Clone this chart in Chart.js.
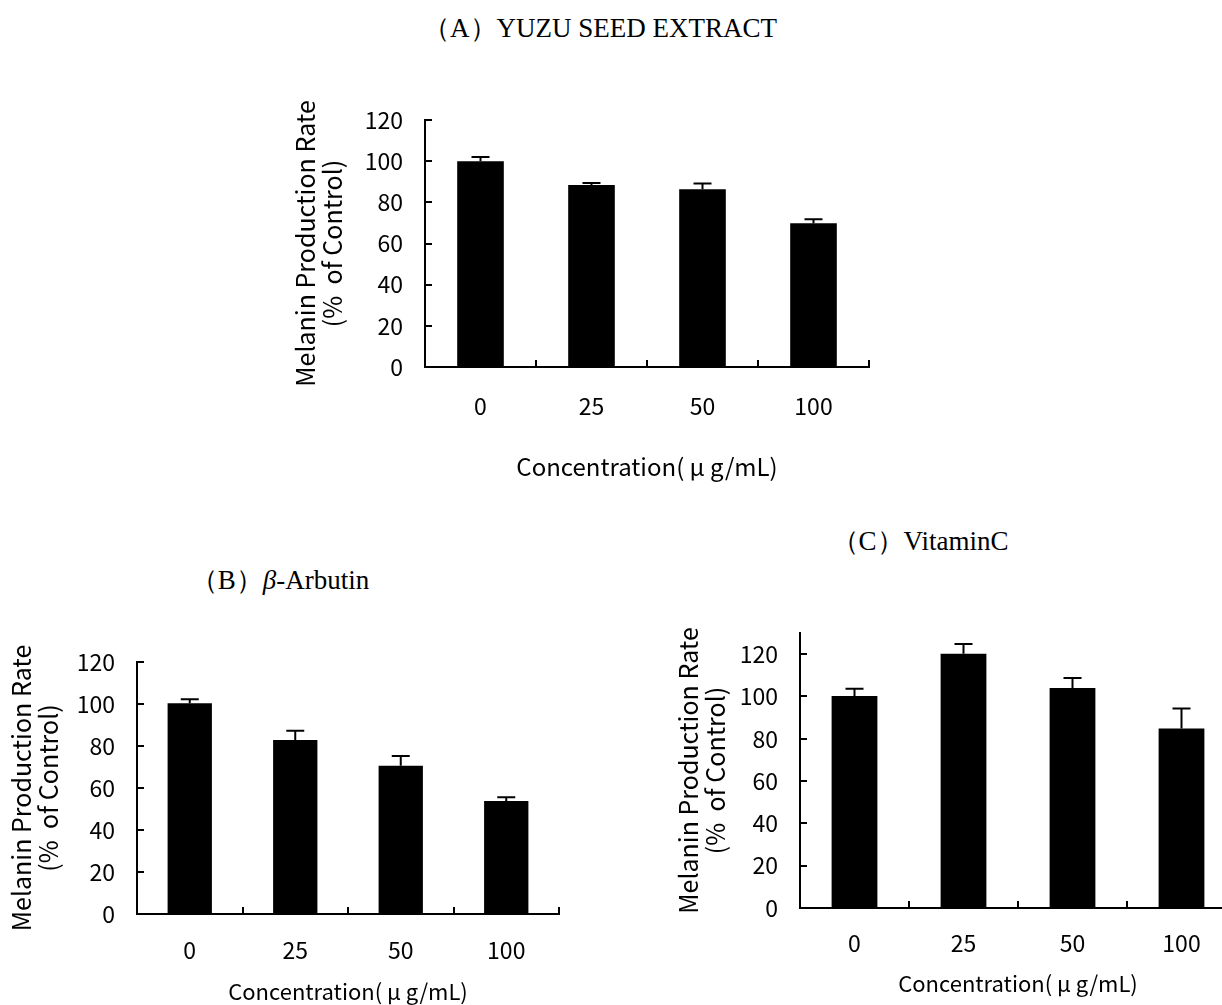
<!DOCTYPE html>
<html>
<head>
<meta charset="utf-8">
<script src="https://cdn.jsdelivr.net/npm/chart.js@4.4.1/dist/chart.umd.min.js"></script>
<style>
  html, body { margin:0; padding:0; background:#fff; width:1222px; height:1005px; overflow:hidden; position:relative; }
  canvas { position:absolute; }
  .ttl { position:absolute; font-family:"Liberation Serif","Times New Roman",serif; font-size:27px; color:#000; white-space:nowrap; transform:translate(-50%,-50%); line-height:1; }
</style>
</head>
<body>
<div class="ttl" style="left:600px; top:28px;">（A）YUZU SEED EXTRACT</div>
<div class="ttl" style="left:280px; top:580px;">（B）<i>β</i>-Arbutin</div>
<div class="ttl" style="left:920px; top:541px;">（C）VitaminC</div>

<canvas id="cA" width="640" height="440" style="left:250px; top:60px;"></canvas>
<canvas id="cB" width="580" height="385" style="left:0px; top:620px;"></canvas>
<canvas id="cC" width="620" height="505" style="left:640px; top:500px;"></canvas>

<script>
// ---- data ----
const categories = ['0', '25', '50', '100'];
const yuzuValues = [100, 88.4, 86.4, 69.8];
const yuzuErrors = [2, 1, 2.8, 2];
const arbutinValues = [100.3, 82.8, 70.6, 53.8];
const arbutinErrors = [2, 4.5, 4.6, 1.8];
const vitaminCValues = [100.2, 120.2, 104, 84.9];
const vitaminCErrors = [3.5, 4.6, 4.7, 9.4];
const yTickValues = [0, 20, 40, 60, 80, 100, 120];
const yTitleLines = ['Melanin Production Rate', '(%  of Control)'];
const xTitleText = 'Concentration( μ g/mL)';

const FONT = '"Noto Sans CJK JP", "Liberation Sans", sans-serif';

const errorBarPlugin = {
  id: 'errorBars',
  afterDatasetsDraw(chart, args, opts) {
    const errs = opts.errors || [];
    const ds = chart.data.datasets[0];
    const meta = chart.getDatasetMeta(0);
    const ys = chart.scales.y;
    const ctx = chart.ctx;
    ctx.save();
    ctx.strokeStyle = '#000';
    ctx.lineWidth = 2;
    meta.data.forEach((bar, i) => {
      const top = ys.getPixelForValue(ds.data[i] + errs[i]);
      ctx.beginPath();
      ctx.moveTo(bar.x, bar.y);
      ctx.lineTo(bar.x, top);
      ctx.moveTo(bar.x - 9, top);
      ctx.lineTo(bar.x + 9, top);
      ctx.stroke();
    });
    ctx.restore();
  }
};

const innerTicksPlugin = {
  id: 'innerTicks',
  afterDraw(chart) {
    const { ctx, chartArea } = chart;
    const xs = chart.scales.x, ys = chart.scales.y;
    ctx.save();
    ctx.strokeStyle = '#000';
    ctx.lineWidth = 2;
    ctx.beginPath();
    ys.ticks.forEach(t => {
      const py = Math.round(ys.getPixelForValue(t.value));
      ctx.moveTo(chartArea.left, py);
      ctx.lineTo(chartArea.left + 7, py);
    });
    for (let i = 1; i <= xs.ticks.length; i++) {
      const px = Math.round(xs.getPixelForValue(i - 0.5));
      ctx.moveTo(px, chartArea.bottom + 1);
      ctx.lineTo(px, chartArea.bottom - 7);
    }
    ctx.stroke();
    ctx.restore();
  }
};

function makeChart(id, values, errors, cfg) {
  return new Chart(document.getElementById(id), {
    type: 'bar',
    data: {
      labels: categories,
      datasets: [{
        data: values,
        backgroundColor: '#000',
        borderWidth: 0,
        barPercentage: 0.42,
        categoryPercentage: 1
      }]
    },
    options: {
      responsive: false,
      animation: false,
      events: [],
      layout: { padding: cfg.padding },
      plugins: {
        legend: { display: false },
        tooltip: { enabled: false },
        errorBars: { errors: errors }
      },
      scales: {
        x: {
          grid: { display: false, drawTicks: false },
          border: { display: true, color: '#000', width: 2 },
          ticks: { color: '#000', font: { family: FONT, size: 23 }, padding: cfg.xTickPad, maxRotation: 0 },
          title: {
            display: true, text: xTitleText, color: '#000',
            font: { family: FONT, size: cfg.xTitleSize, lineHeight: 1.2 },
            padding: { top: 0, bottom: cfg.xTitlePad }
          },
          afterFit(s) { s.height = cfg.xHeight; }
        },
        y: {
          min: 0, max: cfg.ymax,
          grid: { display: false, drawTicks: false },
          border: { display: true, color: '#000', width: 2 },
          ticks: { stepSize: 20, color: '#000', font: { family: FONT, size: 23 }, padding: 22 },
          afterBuildTicks(s) { s.ticks = yTickValues.map(v => ({ value: v })); },
          title: {
            display: true, text: yTitleLines, color: '#000',
            font: { family: FONT, size: 25, lineHeight: 1.08 },
            padding: { top: cfg.yTitlePad, bottom: 0 }
          },
          afterFit(s) { s.width = cfg.yWidth; }
        }
      }
    },
    plugins: [errorBarPlugin, innerTicksPlugin]
  });
}

makeChart('cA', yuzuValues, yuzuErrors, {
  padding: { left: 0, top: 60, right: 21, bottom: 0 },
  yWidth: 175, xHeight: 133, ymax: 120,
  xTickPad: 25, xTitleSize: 24, xTitlePad: 19, yTitlePad: 42
});
makeChart('cB', arbutinValues, arbutinErrors, {
  padding: { left: 0, top: 42, right: 21, bottom: 0 },
  yWidth: 137, xHeight: 91, ymax: 120,
  xTickPad: 22, xTitleSize: 22, xTitlePad: 0, yTitlePad: 8
});
makeChart('cC', vitaminCValues, vitaminCErrors, {
  padding: { left: 0, top: 133, right: 24, bottom: 0 },
  yWidth: 160, xHeight: 97, ymax: 130,
  xTickPad: 21, xTitleSize: 22, xTitlePad: 8, yTitlePad: 35
});
</script>
</body>
</html>
